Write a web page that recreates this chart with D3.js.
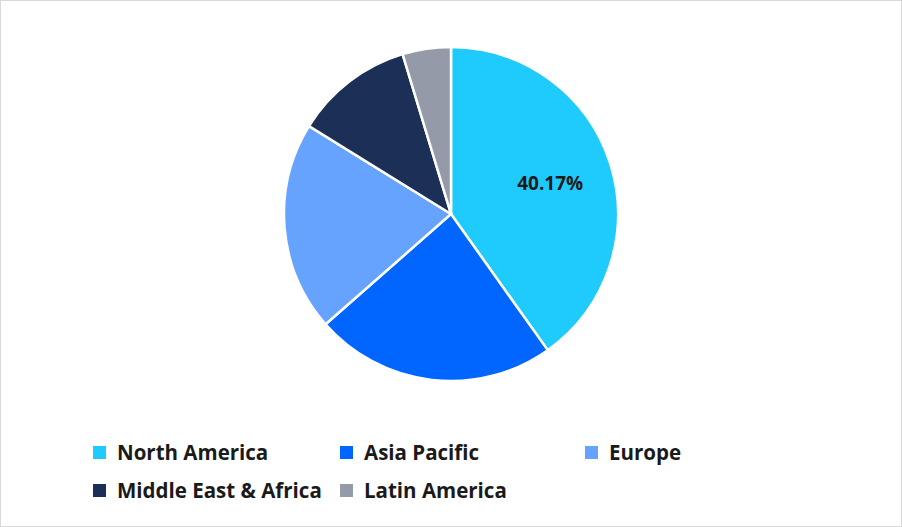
<!DOCTYPE html><html><head><script src="https://cdn.jsdelivr.net/npm/d3@7"></script>
<style>body{margin:0;background:#fff}</style></head><body><svg id="c" width="902" height="527"></svg>
<script>
const categories=["North America","Asia Pacific","Europe","Middle East & Africa","Latin America"];
const values=[40.17,23.35,20.3,11.5,4.68];
const colors=["#1ecbfc","#0066ff","#66a3ff","#1c2f57","#949aa8"];
const svg=d3.select("#c");
svg.append("rect").attr("x",0.5).attr("y",0.5).attr("width",901).attr("height",526).attr("fill","#fff").attr("stroke","#d9d9d9");
const data=categories.map((c,i)=>({c,v:values[i],col:colors[i]}));
const pie=d3.pie().value(d=>d.v).sort(null);
const arc=d3.arc().innerRadius(0).outerRadius(167);
const g=svg.append("g").attr("transform","translate(451,214)");
const arcs=pie(data);
g.selectAll("path").data(arcs).join("path").attr("d",arc).attr("fill",d=>d.data.col).attr("stroke","#fff").attr("stroke-width",2.5);
const c0=d3.arc().innerRadius(102).outerRadius(102).centroid(arcs[0]);
g.append("text").attr("x",c0[0]+2).attr("y",c0[1]).attr("text-anchor","middle").attr("dominant-baseline","central")
 .attr("font-family","Open Sans").attr("font-weight","bold").attr("font-size",19).attr("fill","#1a1a1a").text(values[0].toFixed(2)+"%");
const pos=[[93,452],[340,452],[585,452],[93,490],[340,490]];
const lg=svg.selectAll("g.l").data(data).join("g").attr("transform",(d,i)=>`translate(${pos[i][0]},${pos[i][1]})`);
lg.append("rect").attr("x",0).attr("y",-6).attr("width",13).attr("height",13).attr("fill",d=>d.col);
lg.append("text").attr("x",24).attr("y",0).attr("dominant-baseline","central").attr("font-family","Open Sans").attr("font-weight","bold").attr("font-size",20.5).attr("fill","#1a1a1a").text(d=>d.c);
</script></body></html>
